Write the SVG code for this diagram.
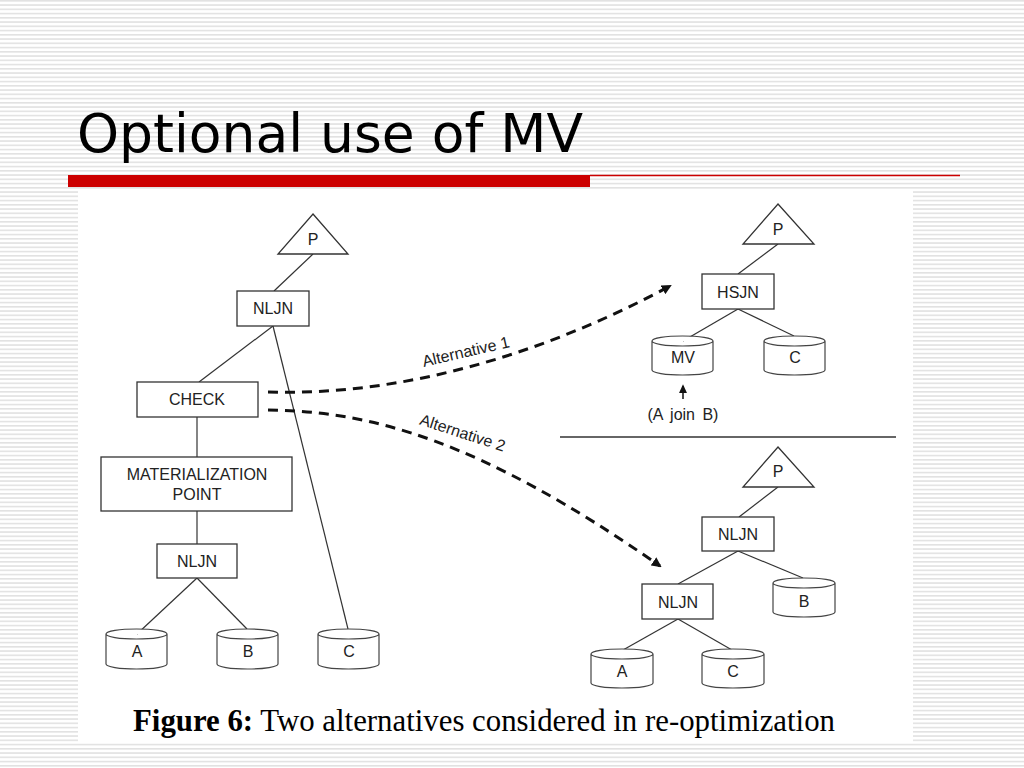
<svg xmlns="http://www.w3.org/2000/svg" width="1024" height="768" viewBox="0 0 1024 768">
<defs>
<pattern id="stripes" x="0" y="0" width="8" height="4.25" patternUnits="userSpaceOnUse">
<rect x="0" y="0" width="8" height="4.25" fill="#ffffff"/>
<rect x="0" y="0" width="8" height="1.6" fill="#e2e2e2"/>
</pattern>
<marker id="arrow" markerWidth="10" markerHeight="10" refX="8" refY="5" orient="auto" markerUnits="userSpaceOnUse" viewBox="0 0 10 10">
<path d="M0,0 L10,5 L0,10 Z" fill="#111"/>
</marker>
<marker id="arrowSmall" markerWidth="9" markerHeight="10" refX="8" refY="4.5" orient="auto" markerUnits="userSpaceOnUse" viewBox="0 0 10 9">
<path d="M0,0 L10,4.5 L0,9 Z" fill="#111"/>
</marker>
</defs>
<style>
.box{fill:#fff;stroke:#333;stroke-width:1.3}
.cyl{fill:#fff;stroke:#444;stroke-width:1.2}
.edge{stroke:#333;stroke-width:1.2;fill:none}
.dash{stroke:#111;stroke-width:3;fill:none;stroke-dasharray:10 7}
.lbl{font-family:"Liberation Sans",Arial,sans-serif;font-size:16px;fill:#222;text-anchor:middle}
.alt{font-family:"Liberation Sans",Arial,sans-serif;font-size:16px;fill:#222;text-anchor:middle}
</style>
<rect x="0" y="0" width="1024" height="768" fill="url(#stripes)"/>
<text x="77" y="152" font-family="DejaVu Sans, sans-serif" font-size="54" fill="#000" textLength="506" lengthAdjust="spacingAndGlyphs">Optional use of MV</text>
<rect x="68" y="175" width="522" height="12" fill="#cc0000"/>
<line x1="590" y1="175.5" x2="960" y2="175.5" stroke="#cc0000" stroke-width="1.5"/>
<rect x="78" y="190" width="835" height="552" fill="#ffffff"/>

<g id="connectors">
<line class="edge" x1="313" y1="254" x2="274" y2="291"/>
<line class="edge" x1="273" y1="326" x2="199" y2="382"/>
<line class="edge" x1="273" y1="326" x2="348" y2="629"/>
<line class="edge" x1="197" y1="417" x2="197" y2="457"/>
<line class="edge" x1="197" y1="511" x2="197" y2="544"/>
<line class="edge" x1="197" y1="578" x2="137" y2="634"/>
<line class="edge" x1="197" y1="578" x2="247" y2="629"/>
<line class="edge" x1="778" y1="244" x2="738" y2="274"/>
<line class="edge" x1="738" y1="309" x2="683" y2="341"/>
<line class="edge" x1="738" y1="309" x2="794" y2="336"/>
<line class="edge" x1="778" y1="487" x2="739" y2="517"/>
<line class="edge" x1="738" y1="551" x2="678" y2="584"/>
<line class="edge" x1="738" y1="551" x2="803" y2="578"/>
<line class="edge" x1="678" y1="619" x2="623" y2="650"/>
<line class="edge" x1="678" y1="619" x2="732" y2="650"/>
<line x1="683" y1="399" x2="683" y2="386" stroke="#111" stroke-width="1.5" marker-end="url(#arrowSmall)"/>
<line x1="560" y1="437" x2="896" y2="437" stroke="#333" stroke-width="1.5"/>
<path class="dash" d="M268,392 C400,396 540,356 670,286" marker-end="url(#arrow)"/>
<path class="dash" d="M268,410 C370,411 480,440 660,566" marker-end="url(#arrow)"/>
<text class="alt" transform="translate(467,357) rotate(-13)">Alternative 1</text>
<text class="alt" transform="translate(461,438) rotate(18)">Alternative 2</text>
</g>

<g id="left-P"><path class="box" d="M313,214 L348,254 L278,254 Z"/><text class="lbl" x="313" y="245">P</text></g>
<g id="left-NLJN-top"><rect class="box" x="237" y="291" width="72" height="35"/><text class="lbl" x="273" y="314">NLJN</text></g>
<g id="left-CHECK"><rect class="box" x="137" y="382" width="121" height="35"/><text class="lbl" x="197" y="405">CHECK</text></g>
<g id="left-MAT"><rect class="box" x="101" y="457" width="191" height="54"/><text class="lbl" x="197" y="480">MATERIALIZATION</text><text class="lbl" x="197" y="500">POINT</text></g>
<g id="left-NLJN-bottom"><rect class="box" x="157" y="544" width="80" height="34"/><text class="lbl" x="197" y="567">NLJN</text></g>
<g id="left-A"><path class="cyl" d="M106,634 A30.5,5 0 0 1 167,634 A30.5,5 0 0 1 106,634 M106,634 V664 A30.5,5 0 0 0 167,664 V634"/><text class="lbl" x="137" y="657">A</text></g>
<g id="left-B"><path class="cyl" d="M217,634 A30.5,5 0 0 1 278,634 A30.5,5 0 0 1 217,634 M217,634 V664 A30.5,5 0 0 0 278,664 V634"/><text class="lbl" x="248" y="657">B</text></g>
<g id="left-C"><path class="cyl" d="M318,634 A30.5,5 0 0 1 379,634 A30.5,5 0 0 1 318,634 M318,634 V664 A30.5,5 0 0 0 379,664 V634"/><text class="lbl" x="349" y="657">C</text></g>

<g id="alt1-P"><path class="box" d="M778,204 L814,244 L743,244 Z"/><text class="lbl" x="778" y="235">P</text></g>
<g id="alt1-HSJN"><rect class="box" x="702" y="274" width="72" height="35"/><text class="lbl" x="738" y="298">HSJN</text></g>
<g id="alt1-MV"><path class="cyl" d="M652,341 A30.5,5 0 0 1 713,341 A30.5,5 0 0 1 652,341 M652,341 V370 A30.5,5 0 0 0 713,370 V341"/><text class="lbl" x="683" y="363">MV</text></g>
<g id="alt1-C"><path class="cyl" d="M764,341 A30.5,5 0 0 1 825,341 A30.5,5 0 0 1 764,341 M764,341 V370 A30.5,5 0 0 0 825,370 V341"/><text class="lbl" x="795" y="363">C</text></g>
<g id="alt1-AjoinB"><text class="lbl" x="683" y="420" word-spacing="3">(A join B)</text></g>

<g id="alt2-P"><path class="box" d="M778,447 L814,487 L743,487 Z"/><text class="lbl" x="778" y="477">P</text></g>
<g id="alt2-NLJN-top"><rect class="box" x="702" y="517" width="72" height="34"/><text class="lbl" x="738" y="540">NLJN</text></g>
<g id="alt2-NLJN-bottom"><rect class="box" x="642" y="584" width="71" height="35"/><text class="lbl" x="678" y="608">NLJN</text></g>
<g id="alt2-B"><path class="cyl" d="M773,583 A31,5 0 0 1 835,583 A31,5 0 0 1 773,583 M773,583 V612 A31,5 0 0 0 835,612 V583"/><text class="lbl" x="804" y="607">B</text></g>
<g id="alt2-A"><path class="cyl" d="M591,654 A31,5 0 0 1 653,654 A31,5 0 0 1 591,654 M591,654 V683 A31,5 0 0 0 653,683 V654"/><text class="lbl" x="622" y="677">A</text></g>
<g id="alt2-C"><path class="cyl" d="M702,654 A31,5 0 0 1 764,654 A31,5 0 0 1 702,654 M702,654 V683 A31,5 0 0 0 764,683 V654"/><text class="lbl" x="733" y="677">C</text></g>

<text x="133" y="731" font-family="Liberation Serif, Times New Roman, serif" font-size="31" fill="#000" textLength="702" lengthAdjust="spacingAndGlyphs"><tspan font-weight="bold">Figure 6:</tspan> Two alternatives considered in re-optimization</text>
</svg>
